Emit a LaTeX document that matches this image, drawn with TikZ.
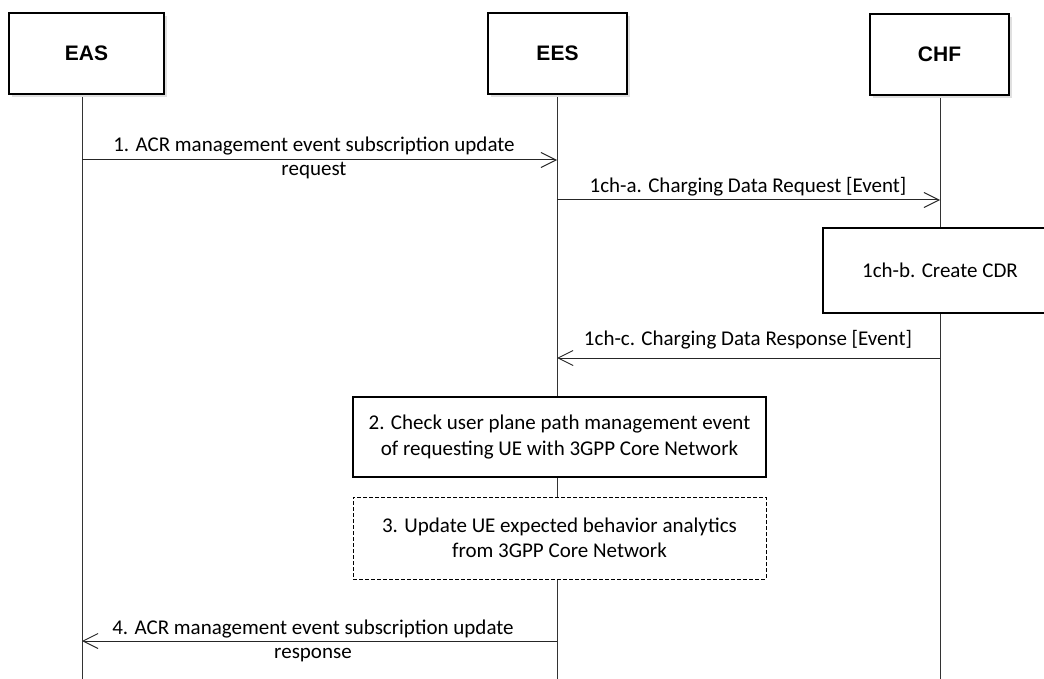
\documentclass[tikz,border=0pt]{standalone}
\usepackage{fontspec}
\setmainfont{Carlito}
\newfontfamily\headfont{Liberation Sans}
\usetikzlibrary{arrows.meta,shadows}

\tikzset{
  lane/.style={line width=1pt,draw=black!80},
  head/.style={draw,line width=1.3pt,fill=white,inner sep=0pt,
    minimum width=139pt,minimum height=81pt,
    font=\headfont\bfseries\fontsize{21}{25}\selectfont,
    general shadow={fill=black!12,shadow xshift=3pt,shadow yshift=-3pt}},
  act/.style={draw,line width=1.1pt,fill=white,align=center,inner sep=0pt,
    minimum width=413pt,font=\fontsize{21}{25.5}\selectfont},
  msg/.style={line width=1pt,draw=black!85,
    -{Straight Barb[length=15pt,width=15pt,line width=1pt]}},
  txt/.style={align=center,inner sep=0pt,font=\fontsize{21}{24}\selectfont},
}

\begin{document}
\begin{tikzpicture}[x=1pt,y=-1pt]
\useasboundingbox (0,0) rectangle (1044,679);
\clip (0,0) rectangle (1044,679);

% lifelines
\coordinate (cEasTopPt) at (82,94);
\coordinate (cEasEndPt) at (82,679);
\coordinate (cEesTopPt) at (557,94);
\coordinate (cEesEndPt) at (557,679);
\coordinate (cChfTopPt) at (940,94);
\coordinate (cChfEndPt) at (940,679);

\foreach \v/\u in {cEasTopPt/cEasEndPt,cEesTopPt/cEesEndPt,cChfTopPt/cChfEndPt}
{
    \draw[lane] (\v) -- (\u);
};

\node[head,minimum width=155pt] (eas) at (86.5,53.5) {EAS};
\node[head] (ees) at (557.5,53.5) {EES};
\node[head] (chf) at (939.5,54.5) {CHF};

% message end points
\coordinate (cM1aPt) at (82,160);
\coordinate (cM1bPt) at (557,160);
\coordinate (cM2aPt) at (557,200);
\coordinate (cM2bPt) at (940,200);
\coordinate (cM3aPt) at (940,358);
\coordinate (cM3bPt) at (557,358);
\coordinate (cM4aPt) at (557,641);
\coordinate (cM4bPt) at (82,641);

\foreach \v/\u in {cM1aPt/cM1bPt,cM2aPt/cM2bPt,cM3aPt/cM3bPt,cM4aPt/cM4bPt}
{
    \draw[msg] (\v) -- (\u);
};

\node[txt] (lblReq) at (314,158) {1. ACR management event subscription update\\request};
\node[txt] (lblCdrReq) at (748,187) {1ch-a. Charging Data Request [Event]};
\node[txt] (lblCdrRsp) at (748,340) {1ch-c. Charging Data Response [Event]};
\node[txt] (lblRsp) at (313,641) {4. ACR management event subscription update\\response};

\node[act,minimum width=234pt,minimum height=85pt] (cdr) at (940,270.5) {1ch-b. Create CDR};
\node[act,minimum height=80pt] (chk) at (559.5,437)
    {2. Check user plane path management event\\of requesting UE with 3GPP Core Network};
\node[act,minimum height=82pt,line width=0.9pt,dash pattern=on 4pt off 2pt] (upd) at (559.5,538)
    {3. Update UE expected behavior analytics\\from 3GPP Core Network};

\end{tikzpicture}
\end{document}
